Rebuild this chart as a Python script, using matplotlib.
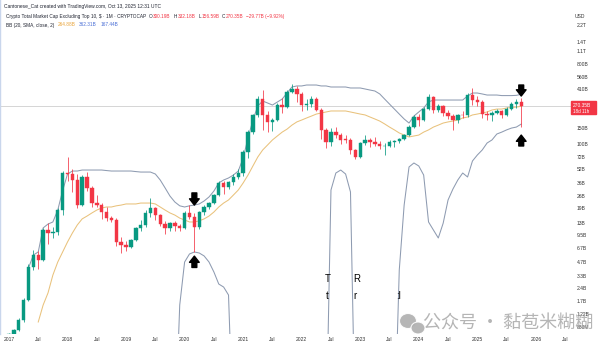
import numpy as np
import matplotlib
matplotlib.use("Agg")
import matplotlib.pyplot as plt
from matplotlib.patches import Rectangle, Ellipse
from matplotlib.ticker import NullLocator

# monthly candles, Jan 2017 .. Oct 2025, in billions of USD
opens = [0.70, 0.74, 0.82, 1.05, 1.78, 4.15, 5.66, 4.97, 10.8, 10.1, 10.3, 18.1,
         47.0, 45.5, 39.4, 20.6, 42.6, 32.1, 21.7, 20.6, 17.2, 14.7, 14.0, 7.93,
         7.33, 6.96, 8.34, 11.4, 12.3, 16.8, 19.1, 15.9, 12.6, 11.4, 12.8, 11.9,
         11.4, 16.8, 15.2, 11.7, 17.2, 19.6, 21.7, 26.7, 36.0, 33.0, 37.0, 42.6,
         47.0, 81.0, 136, 212, 323, 212, 176, 186, 274, 262, 385, 415,
         365, 274, 285, 320, 241, 144, 105, 136, 126, 113, 110, 85,
         71, 103, 111, 106, 101, 94, 96, 104, 108, 114, 126, 157,
         200, 186, 250, 340, 241, 264, 223, 205, 186, 212, 210, 355,
         312, 300, 220, 210, 225, 232, 212, 250, 280, 300.19]
highs = [0.76, 0.84, 1.10, 1.85, 4.50, 6.40, 6.20, 11.5, 12.8, 11.6, 19.0, 50.0,
         71.0, 52.0, 46.0, 45.0, 48.0, 33.5, 27.0, 22.0, 19.5, 15.6, 14.6, 9.0,
         8.1, 8.6, 11.8, 14.0, 18.0, 24.5, 19.6, 16.5, 13.6, 13.4, 13.6, 12.5,
         17.5, 20.5, 16.6, 17.8, 20.5, 22.5, 27.5, 38.0, 38.5, 38.5, 46.0, 52.0,
         85.0, 142, 220, 345, 404, 232, 195, 290, 330, 400, 470, 445,
         380, 320, 345, 340, 255, 150, 150, 155, 132, 125, 118, 88,
         106, 125, 118, 120, 108, 103, 110, 112, 117, 130, 162, 210,
         215, 258, 360, 345, 280, 275, 240, 215, 220, 235, 370, 425,
         350, 310, 235, 232, 250, 240, 262, 300, 318, 332.18]
lows = [0.66, 0.72, 0.80, 1.00, 1.70, 3.80, 3.90, 4.80, 7.6, 8.8, 9.6, 16.0,
        38.0, 29.0, 19.0, 20.0, 30.0, 19.5, 19.5, 14.5, 13.5, 13.2, 7.2, 6.0,
        6.2, 6.7, 8.1, 10.5, 11.8, 15.0, 14.0, 12.0, 9.8, 10.4, 10.5, 10.4,
        11.0, 14.5, 6.1, 11.0, 16.0, 18.8, 21.0, 26.0, 27.5, 31.0, 35.0, 40.0,
        44.0, 70.0, 128, 200, 144, 135, 140, 180, 225, 255, 370, 300,
        235, 240, 260, 235, 115, 91, 95, 118, 100, 102, 78, 68,
        70, 98, 92, 95, 88, 75, 93, 92, 103, 110, 123, 150,
        160, 180, 240, 225, 230, 205, 190, 144, 170, 195, 200, 275,
        265, 195, 185, 180, 215, 195, 208, 240, 255, 156.59]
closes = [0.74, 0.82, 1.05, 1.78, 4.15, 5.66, 4.97, 10.8, 10.1, 10.3, 18.1, 47.0,
          45.5, 39.4, 20.6, 42.6, 32.1, 21.7, 20.6, 17.2, 14.7, 14.0, 7.93, 7.33,
          6.96, 8.34, 11.4, 12.3, 16.8, 19.1, 15.9, 12.6, 11.4, 12.8, 11.9, 11.4,
          16.8, 15.2, 11.7, 17.2, 19.6, 21.7, 26.7, 36.0, 33.0, 37.0, 42.6, 47.0,
          81.0, 136, 212, 323, 212, 176, 186, 274, 262, 385, 415, 365,
          274, 285, 320, 241, 144, 105, 136, 126, 111, 110, 85, 71,
          103, 111, 106, 101, 94, 96, 104, 108, 114, 126, 157, 200,
          186, 250, 340, 241, 264, 223, 205, 186, 212, 210, 355, 312,
          300, 220, 210, 225, 232, 212, 250, 280, 300.19, 270.35]

# BB (20, SMA, close, 2); 0.05 = below the visible pane
upper = [None] * 4 + [
    4.04, 5.66, 6.12, 11.4, 12.6, 13.3, 18.1, 30.0,
    46.0, 49.7, 49.7, 51, 51, 51, 51, 51, 50.3, 49.7, 49.7, 49.7,
    49.7, 49.7, 49.0, 48.4, 48.4, 48.4, 46.0, 39.4, 32.1, 26.0, 22.3, 20.2,
    19.6, 20.2, 20.6, 21.2, 22.9, 25.4, 29.6, 36.5, 39.4, 41.5, 44.8, 49.7,
    69.6, 117, 186, 267, 304, 289, 274, 296, 320, 374, 437, 449,
    449, 460, 460, 460, 449, 449, 437, 437, 437, 437, 426, 426,
    426, 415, 404, 394, 365, 320, 281, 247, 217, 191, 172, 206,
    229, 254, 297, 312, 312, 312, 312, 312, 312, 312, 346, 374,
    374, 365, 355, 355, 355, 350, 350, 350, 352, 362.31]
basis = [None] * 6 + [
    1.0, 1.55, 2.12, 3.37, 4.72, 6.12,
    7.93, 10.0, 12.3, 14.4, 15.5, 16.8, 18.1, 19.1, 19.6, 19.6, 20.2, 20.6,
    21.2, 21.2, 21.2, 21.7, 21.7, 21.7, 21.2, 19.6, 18.1, 16.8, 15.9, 14.7,
    14.0, 13.3, 13.3, 13.7, 14.4, 15.5, 17.2, 19.6, 21.7, 23.5, 26.7, 30.4,
    36.5, 44.8, 56.6, 71.4, 85.6, 97.4, 111, 123, 136, 147, 163, 177,
    186, 196, 206, 217, 223, 229, 235, 235, 235, 235, 229, 223,
    217, 212, 201, 191, 181, 168, 155, 144, 133, 126, 120, 123,
    126, 136, 144, 155, 163, 172, 177, 181, 186, 196, 201, 212,
    217, 223, 229, 241, 247, 247, 254, 257, 260, 264.88]
lower = [None] * 34 + [
    0.05, 1.55,
    4.72, 5.81, 6.12, 5.96, 5.52, 4.72, 3.65, 2.67, 2.47, 2.01, 0.05, 0.05,
    0.05, 0.05, 0.05, 0.05, 0.05, 0.05, 0.05, 0.05, 0.05, 0.05, 0.05, 0.05,
    0.05, 0.05, 0.05, 0.05, 0.05, 0.05, 30.4, 47.2, 51.0, 46.0, 28.9, 0.05,
    0.05, 0.05, 0.05, 0.05, 0.05, 0.05, 0.05, 0.05, 3.84, 20.6, 55.2, 61.2,
    56.6, 44.8, 13.3, 10.8, 8.79, 12.9, 23.5, 31.2, 39.4, 47.2, 42.6, 64.4,
    75.2, 85.6, 102.6, 111, 129.5, 136, 144, 151, 155, 167.44]

price_ticks = [2.2e3, 1.4e3, 1.1e3, 800, 560, 410, 150, 100, 72, 52, 36,
               26, 19, 13, 9.5, 6.7, 4.7, 3.3, 2.4, 1.7, 1.22, 0.88]
price_labels = ["2.2T", "1.4T", "1.1T", "800B", "560B", "410B", "150B",
                "100B", "72B", "52B", "36B", "26B", "19B", "13B", "9.5B", "6.7B",
                "4.7B", "3.3B", "2.4B", "1.7B", "1.22B", "880M"]
time_ticks = list(range(0, 115, 6))
time_labels = ["2017", "Jul", "2018", "Jul", "2019", "Jul", "2020", "Jul", "2021",
               "Jul", "2022", "Jul", "2023", "Jul", "2024", "Jul", "2025", "Jul",
               "2026", "Jul"]

W, H = 600, 353
GREEN = "#089981"
RED = "#f23645"
BAND = "#8e9bb1"
BASIS = "#e9c27c"
TXT = "#1f2330"


def main():
  plt.rcParams["font.family"] = ["Liberation Sans", "DejaVu Sans"]
  fig = plt.figure(figsize=(W / 100, H / 100), dpi=100)
  ax = fig.add_axes([0, 19 / H, 571 / W, 334 / H])
  renderer = fig.canvas.get_renderer()

  def ptxt(x, y, s, **kw):
    kw.setdefault("fontsize", 3.4)
    kw.setdefault("color", TXT)
    return fig.text(x / W, 1 - y / H, s, va="center", ha=kw.pop("ha", "left"), **kw)

  def row(x, y, pieces, fs):
    # lay text pieces side by side, each after the previous one
    for s, colr, gap in pieces:
      t = ptxt(x, y, s, color=colr, fontsize=fs)
      x = t.get_window_extent(renderer).x1 + gap

  o = np.array(opens) * 1e9
  h = np.array(highs) * 1e9
  l = np.array(lows) * 1e9
  c = np.array(closes) * 1e9
  x = np.arange(len(c))
  col = [GREEN if cc >= oo else RED for oo, cc in zip(o, c)]

  ax.set_yscale("log")
  ax.set_ylim(0.733e9, 4.15e12)
  ax.set_xlim(-1.84, 115.2)

  # bands
  for vals, colr in ((upper, BAND), (lower, BAND), (basis, BASIS)):
    arr = np.array([np.nan if v is None else v for v in vals], dtype=float) * 1e9
    ax.plot(x, arr, color=colr, lw=0.75, zorder=2)

  # candles
  ax.vlines(x, l, h, colors=col, lw=0.55, zorder=3)
  ax.bar(x, np.abs(c - o), bottom=np.minimum(o, c), width=0.7, color=col,
         edgecolor=col, lw=0.3, zorder=4)

  # last price line
  ax.axhline(c[-1], color="#cfcfcf", lw=0.6, zorder=1)

  # arrows
  arr_kw = dict(arrowstyle="simple,head_width=1.4,head_length=0.9,tail_width=0.7",
                color="black", mutation_scale=5, shrinkA=0, shrinkB=0)
  ax.annotate("", xy=(38, 20.6e9), xytext=(38, 28.2e9), arrowprops=arr_kw, zorder=6)
  ax.annotate("", xy=(38, 5.5e9), xytext=(38, 4.1e9), arrowprops=arr_kw, zorder=6)
  ax.annotate("", xy=(105, 346e9), xytext=(105, 460e9), arrowprops=arr_kw, zorder=6)
  ax.annotate("", xy=(105, 126e9), xytext=(105, 95e9), arrowprops=arr_kw, zorder=6)

  # axes styling
  ax.yaxis.tick_right()
  ax.yaxis.set_minor_locator(NullLocator())
  ax.set_yticks([v * 1e9 for v in price_ticks])
  ax.set_yticklabels(price_labels)
  ax.set_xticks(time_ticks)
  ax.set_xticklabels(time_labels)
  ax.tick_params(axis="y", length=0, pad=4, labelsize=3.6, labelcolor="#333333")
  ax.tick_params(axis="x", length=0, pad=2.5, labelsize=3.6, labelcolor="#333333")
  for s in ("top", "right", "bottom"):
    ax.spines[s].set_visible(False)
  ax.spines["left"].set_color("#c9d6ec")
  ax.spines["left"].set_linewidth(1.0)
  ax.set_facecolor("white")

  # header and legend
  ptxt(4, 6.5, "Cantonese_Cat created with TradingView.com, Oct 13, 2025 12:31 UTC",
       fontsize=3.55)
  row(6, 16.5, [("Crypto Total Market Cap Excluding Top 10, $ · 1M · CRYPTOCAP", TXT, 3),
                ("O", TXT, 0.3), ("300.19B", RED, 3),
                ("H", TXT, 0.3), ("332.18B", RED, 3),
                ("L", TXT, 0.3), ("156.59B", RED, 3),
                ("C", TXT, 0.3), ("270.35B", RED, 3),
                ("−29.77B (−9.92%)", RED, 0)], 3.45)
  row(6, 25, [("BB (20, SMA, close, 2)", TXT, 3.5),
              ("264.88B", "#e9a43a", 3.5),
              ("362.31B", "#4a6fd6", 3.5),
              ("167.44B", "#4a6fd6", 0)], 3.45)
  ptxt(575, 16.5, "USD", color="#333333", fontsize=3.6)

  # stray glyphs in the reference picture
  for gx, gy, g in ((325, 279, "T"), (326, 296, "t"), (353, 279, "R"),
                    (353, 296, "r"), (396, 296, ":l")):
    ptxt(gx, gy, g, fontsize=7, color="black")

  # price label box
  fig.canvas.draw()
  ypx = H - ax.transData.transform((0, c[-1]))[1]
  fig.add_artist(Rectangle((571 / W, 1 - (ypx + 8) / H), 25 / W, 13 / H,
                           transform=fig.transFigure, color="#f23645", zorder=10))
  ptxt(573, ypx, "270.35B", color="white", fontsize=3.5, zorder=11)
  ptxt(573, ypx + 5.5, "18d 11h", color="white", fontsize=3.3, zorder=11)

  # watermark
  for ex, ey, ew, eh in ((408, 321, 17, 15), (418, 328, 14, 12)):
    fig.add_artist(Ellipse((ex / W, 1 - ey / H), ew / W, eh / H, transform=fig.transFigure,
                           facecolor="#aeaeae", edgecolor="white", lw=0.8, alpha=0.9, zorder=12))
  ptxt(423, 324, "公众号 · 黏苞米糊糊", fontsize=13, color="#a8a8a8", alpha=0.85,
       family=["Noto Sans CJK SC", "DejaVu Sans"], zorder=12)

  fig.savefig("out.png", dpi=100, facecolor="white")


if __name__ == "__main__":
  main()
